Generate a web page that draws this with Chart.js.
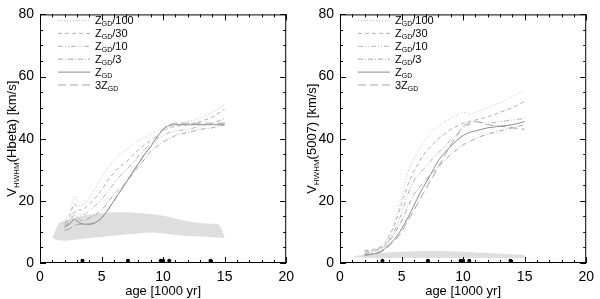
<!DOCTYPE html>
<html>
<head>
<meta charset="utf-8">
<script src="https://cdn.jsdelivr.net/npm/chart.js@4.4.1/dist/chart.umd.min.js"></script>
<style>
  body { margin: 0; background: #fff; }
  #wrap { width: 600px; height: 299px; display: flex; }
  canvas { display: block; }
</style>
</head>
<body>
<div id="wrap">
  <canvas id="left" width="300" height="299"></canvas>
  <canvas id="right" width="300" height="299"></canvas>
</div>
<script>
// model ages (1000 yr)
const ages = [2, 2.4, 2.8, 3.2, 3.6, 4, 4.5, 5, 5.5, 6, 6.5, 7, 7.5, 8, 8.5, 9, 9.5, 10, 10.5, 11, 12, 13, 14, 15];

// legend labels: [prefix, subscript, suffix]
const seriesLabels = [
  ["Z", "GD", "/100"],
  ["Z", "GD", "/30"],
  ["Z", "GD", "/10"],
  ["Z", "GD", "/3"],
  ["Z", "GD", ""],
  ["3Z", "GD", ""]
];

// V_HWHM(Hbeta)
const hbZ100 = [14, 16, 21.5, 18.5, 19, 21, 24, 27.5, 30.5, 33, 35, 36.5, 38, 39.5, 40.5, 41.5, 42.5, 43.5, 44.5, 45, 45.5, 46.5, 48.5, 51];
const hbZ30  = [13, 15, 19, 17, 17.5, 19, 21, 23.5, 26.5, 29, 31, 32.5, 34.5, 36.5, 38, 39.5, 41, 42.5, 43.5, 44, 44.5, 45.5, 47, 49.5];
const hbZ10  = [12.5, 14, 16.5, 15.5, 15.5, 17, 18.5, 20.5, 23, 25.5, 28, 30, 32, 34.5, 36.5, 38.5, 40, 41, 42, 42.5, 43, 44, 45, 46.5];
const hbZ3   = [12, 13, 15.5, 14, 13.5, 14.5, 15.5, 17, 19.5, 22, 24, 26, 28.5, 31, 33.5, 36, 37.5, 39, 40, 41, 42, 43, 43.5, 44.5];
const hbZ1   = [11.5, 12.5, 14, 13, 12.5, 12.5, 13, 14.5, 17, 20, 23, 26, 29, 32, 35, 37.5, 40.5, 43, 44.2, 44.5, 44.5, 44.5, 44.5, 44.5];
const hb3Z   = [10.5, 11, 12, 12.5, 12.5, 12.5, 13, 14.5, 17, 20, 23, 26, 29, 32, 35, 37.5, 40.5, 43, 44.5, 45, 45, 45, 45, 45];

// V_HWHM(5007)
const oxZ100 = [3, 3.5, 4, 5, 6.5, 9, 14, 21, 29, 33.5, 37, 40, 42.5, 44, 45.5, 46.5, 47.5, 48.5, 48, 48.5, 50, 51.5, 53.5, 55.5];
const oxZ30  = [4, 4.2, 4.5, 5, 6, 8.5, 13, 19, 25, 29.5, 33, 36, 38, 40, 41.5, 43, 44, 45, 45.5, 46, 47, 48.5, 50, 52];
const oxZ10  = [3.5, 3.8, 4.2, 4.8, 5.5, 7.5, 11, 16, 22, 26.5, 29, 31, 33.5, 35.5, 37.5, 39.5, 41.5, 43.5, 44.5, 45.5, 45, 45.5, 46, 46.5];
const oxZ3   = [3, 3.3, 3.8, 4.3, 5.2, 7, 10, 13.5, 18, 22, 24.5, 27, 29, 31, 33, 35, 36.5, 38, 39, 40, 41.5, 42.5, 43.5, 44.5];
const oxZ1   = [2.5, 2.8, 3, 3.5, 4.5, 6, 8, 11, 14.5, 18.5, 22.5, 26, 29.5, 33, 35.5, 37.5, 39.5, 41, 42, 42.5, 43.5, 44, 44.5, 45.5];
const ox3Z   = [2.5, 2.7, 3, 3.3, 4.2, 5.5, 7.5, 10, 13.5, 17, 20.5, 24, 27.5, 31, 34.5, 38, 41, 44, 45, 45.5, 44.5, 44, 43.5, 43];

// observed range (grey band)
const bandAges = [1.05, 1.5, 2, 3, 4, 5, 6, 7, 8, 9, 10, 11, 12, 13, 14, 14.5, 15];
const hbBandHi = [8.5, 12.5, 13.5, 14.8, 15.5, 16, 16.3, 16.3, 16.1, 15.8, 15.2, 14.3, 13.4, 12.9, 12.6, 12.4, 8.4];
const hbBandLo = [8.0, 7.3, 7.2, 7.6, 8.0, 8.4, 8.8, 9.2, 9.5, 9.8, 9.5, 9.0, 8.7, 8.5, 8.3, 8.2, 8.0];
const oxBandHi = [2.0, 2.4, 2.7, 3.1, 3.4, 3.6, 3.8, 3.9, 3.9, 3.8, 3.6, 3.4, 3.2, 3.0, 2.8, 2.7, 2.5];
const oxBandLo = [1.9, 1.8, 1.7, 1.6, 1.6, 1.6, 1.6, 1.6, 1.6, 1.6, 1.6, 1.6, 1.6, 1.6, 1.6, 1.6, 1.6];

// object ages (black dots)
const objAges = [3.45, 7.15, 9.8, 10.0, 10.5, 13.85];
const objVal = 0.7;

const lineColors = ["#c4c4c4", "#b0b0b0", "#b4b4b4", "#a8a8a8", "#8a8a8a", "#a4a4a4"];
const lineDashes = [[1, 2], [4, 3], [5, 2, 1, 2, 1, 2], [5, 2, 1, 2], [], [8, 4]];
const FONT = "'Liberation Sans', Arial, Helvetica, sans-serif";

function pts(xs, ys) {
  return xs.map((x, i) => ({ x: x, y: ys[i] }));
}

const framePlugin = {
  id: "frame",
  afterDatasetsDraw(chart) {
    const ctx = chart.ctx;
    const a = chart.chartArea;
    const xs = chart.scales.x, ys = chart.scales.y;
    ctx.save();
    ctx.strokeStyle = "#000";
    ctx.lineWidth = 1;
    ctx.strokeRect(a.left + 0.5, a.top + 0.5, a.right - a.left - 1, a.bottom - a.top - 1);

    // inward ticks on all four sides
    ctx.beginPath();
    xs.ticks.forEach(t => {
      const px = Math.round(xs.getPixelForValue(t.value)) + 0.5;
      const len = t.value % 5 === 0 ? 6 : 3;
      ctx.moveTo(px, a.bottom); ctx.lineTo(px, a.bottom - len);
      ctx.moveTo(px, a.top); ctx.lineTo(px, a.top + len);
    });
    ys.ticks.forEach(t => {
      const py = Math.round(ys.getPixelForValue(t.value)) + 0.5;
      const len = t.value % 20 === 0 ? 6 : 3;
      ctx.moveTo(a.left, py); ctx.lineTo(a.left + len, py);
      ctx.moveTo(a.right, py); ctx.lineTo(a.right - len, py);
    });
    ctx.stroke();

    // legend
    ctx.textBaseline = "alphabetic";
    seriesLabels.forEach((lab, i) => {
      const ds = chart.data.datasets[i];
      const y = 24 + i * 12.9;
      ctx.strokeStyle = ds.borderColor;
      ctx.setLineDash(ds.borderDash);
      ctx.beginPath();
      ctx.moveTo(58, y - 3.5); ctx.lineTo(90, y - 3.5);
      ctx.stroke();
      ctx.setLineDash([]);
      ctx.fillStyle = "#000";
      let x = 95;
      ctx.font = "11px " + FONT;
      ctx.fillText(lab[0], x, y);
      x += ctx.measureText(lab[0]).width;
      ctx.font = "7px " + FONT;
      ctx.fillText(lab[1], x, y + 2);
      x += ctx.measureText(lab[1]).width;
      ctx.font = "11px " + FONT;
      ctx.fillText(lab[2], x, y);
    });

    // x title
    ctx.fillStyle = "#000";
    ctx.font = "13px " + FONT;
    ctx.textAlign = "center";
    ctx.fillText("age [1000 yr]", (a.left + a.right) / 2, 295);

    // y title with subscript
    const parts = chart.options.yTitle;
    ctx.translate(16, (a.top + a.bottom) / 2);
    ctx.rotate(-Math.PI / 2);
    ctx.textAlign = "left";
    ctx.font = "13px " + FONT;
    const w0 = ctx.measureText(parts[0]).width;
    const w2 = ctx.measureText(parts[2]).width;
    ctx.font = "8px " + FONT;
    const w1 = ctx.measureText(parts[1]).width;
    let x = -(w0 + w1 + w2) / 2;
    ctx.font = "13px " + FONT;
    ctx.fillText(parts[0], x, 0);
    x += w0;
    ctx.font = "8px " + FONT;
    ctx.fillText(parts[1], x, 2.5);
    x += w1;
    ctx.font = "13px " + FONT;
    ctx.fillText(parts[2], x, 0);
    ctx.restore();
  }
};

function makeChart(id, series, bandHi, bandLo, yTitle) {
  const datasets = series.map((s, i) => ({
    data: pts(ages, s),
    borderColor: lineColors[i],
    borderDash: lineDashes[i],
    borderWidth: 1,
    pointRadius: 0,
    cubicInterpolationMode: "monotone",
    fill: false
  }));
  datasets.push({
    type: "scatter",
    data: objAges.map(a => ({ x: a, y: objVal })),
    pointRadius: 2,
    pointBackgroundColor: "#000",
    pointBorderWidth: 0,
    clip: false
  });
  datasets.push({
    data: pts(bandAges, bandHi),
    borderWidth: 0,
    pointRadius: 0,
    cubicInterpolationMode: "monotone",
    backgroundColor: "#dedede",
    fill: "+1"
  });
  datasets.push({
    data: pts(bandAges, bandLo),
    borderWidth: 0,
    pointRadius: 0,
    cubicInterpolationMode: "monotone",
    fill: false
  });

  return new Chart(document.getElementById(id), {
    type: "line",
    data: { datasets: datasets },
    options: {
      responsive: false,
      animation: false,
      yTitle: yTitle,
      layout: { padding: { top: 6, right: 8, left: 0, bottom: 0 } },
      plugins: { legend: { display: false }, tooltip: { enabled: false } },
      scales: {
        x: {
          type: "linear", min: 0, max: 20,
          grid: { display: false, drawTicks: false },
          border: { display: false },
          ticks: {
            stepSize: 1, autoSkip: false, maxRotation: 0, padding: 6,
            color: "#000", font: { size: 14, family: FONT },
            callback: v => (v % 5 === 0 ? v : "")
          },
          afterFit: s => { s.height = 36; }
        },
        y: {
          min: 0, max: 80,
          grid: { display: false, drawTicks: false },
          border: { display: false },
          ticks: {
            stepSize: 5, autoSkip: false, padding: 6,
            color: "#000", font: { size: 14, family: FONT },
            callback: v => (v % 20 === 0 ? v : "")
          },
          afterFit: s => { s.width = 40; }
        }
      }
    },
    plugins: [framePlugin]
  });
}

makeChart("left", [hbZ100, hbZ30, hbZ10, hbZ3, hbZ1, hb3Z], hbBandHi, hbBandLo, ["V", "HWHM", "(Hbeta) [km/s]"]);
makeChart("right", [oxZ100, oxZ30, oxZ10, oxZ3, oxZ1, ox3Z], oxBandHi, oxBandLo, ["V", "HWHM", "(5007) [km/s]"]);
</script>
</body>
</html>
